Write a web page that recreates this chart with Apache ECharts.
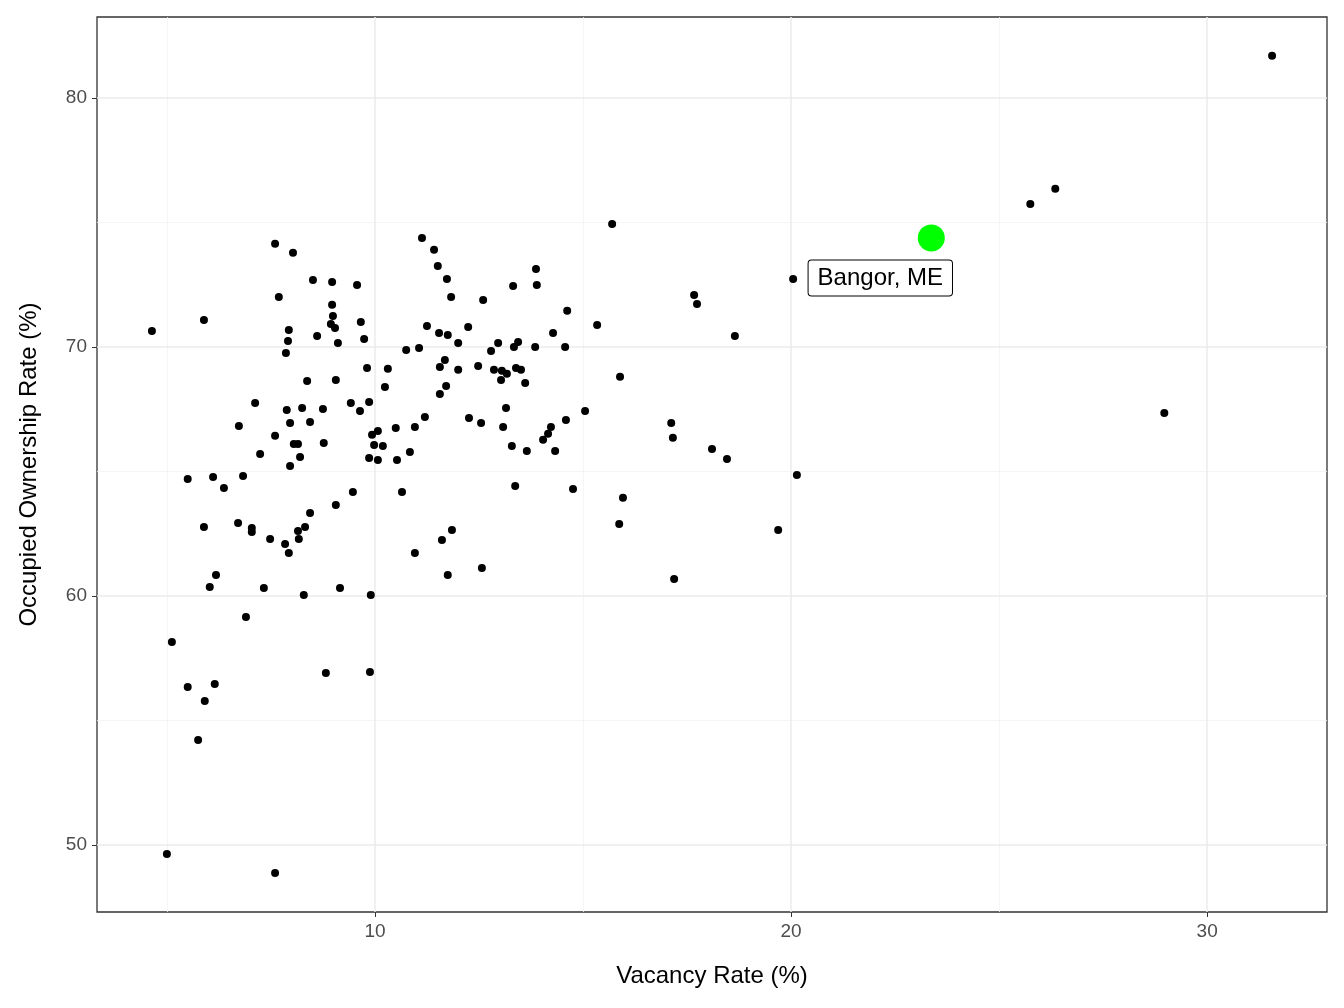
<!DOCTYPE html>
<html>
<head>
<meta charset="utf-8">
<title>Vacancy vs Ownership</title>
<script src="https://cdn.jsdelivr.net/npm/echarts@6/dist/echarts.min.js"></script>
<style>
	html,body{margin:0;width:100%;height:100%;background:#fff}
	#chart{width:1344px;height:1008px}
</style>
</head>
<body>
<div id="chart"></div>
<script>
// vacancy rate (%) and occupied ownership rate (%) per metro
var vacancy = [4.64,5.0,5.12,5.5,5.5,5.75,5.89,5.89,5.91,6.03,6.11,6.15,6.18,6.37,6.71,6.73,6.83,6.9,7.04,7.04,
	7.12,7.24,7.33,7.48,7.6,7.6,7.6,7.69,7.84,7.86,7.88,7.91,7.93,7.93,7.96,7.96,8.03,8.05,8.15,8.15,
	8.17,8.2,8.25,8.29,8.32,8.37,8.44,8.44,8.51,8.61,8.75,8.77,8.82,8.94,8.97,8.97,8.99,9.04,9.06,9.06,
	9.11,9.16,9.42,9.47,9.57,9.64,9.66,9.74,9.81,9.86,9.86,9.88,9.9,9.93,9.98,10.07,10.07,10.19,10.24,10.31,
	10.5,10.53,10.65,10.75,10.84,10.96,10.96,11.06,11.13,11.2,11.25,11.42,11.51,11.54,11.56,11.56,11.61,11.68,11.71,11.73,
	11.75,11.75,11.83,11.85,12.0,12.0,12.24,12.26,12.48,12.55,12.57,12.6,12.79,12.86,12.96,13.03,13.05,13.08,13.15,13.17,
	13.29,13.32,13.34,13.37,13.39,13.44,13.51,13.61,13.65,13.85,13.87,13.89,14.04,14.16,14.23,14.28,14.33,14.57,14.59,14.62,
	14.76,15.05,15.34,15.7,15.87,15.89,15.96,17.12,17.16,17.19,17.67,17.74,18.1,18.46,18.65,19.69,20.05,20.14,25.75,26.35,
	28.97,31.56];
var ownership = [70.64,49.64,58.15,64.7,56.35,54.22,71.08,62.77,55.78,60.36,64.78,56.47,60.84,64.34,62.93,66.83,64.82,59.16,62.73,62.57,
	67.75,65.7,60.32,62.29,74.14,66.43,48.88,72.01,62.09,69.76,67.47,70.24,70.68,61.73,65.22,66.95,73.78,66.1,66.1,62.61,
	62.29,65.58,67.55,60.04,62.77,68.63,66.99,63.33,72.69,70.44,67.51,66.14,56.91,70.92,72.61,71.69,71.24,70.76,68.67,63.65,
	70.16,60.32,67.75,64.18,72.49,67.43,71.0,70.32,69.16,67.79,65.54,56.95,60.04,66.47,66.06,66.63,65.46,66.02,68.39,69.12,
	66.75,65.46,64.18,69.88,65.78,61.73,66.79,69.96,74.38,67.19,70.84,73.9,73.25,70.56,69.2,68.11,62.25,69.48,68.43,72.73,
	60.84,70.48,72.01,62.65,69.08,70.16,70.8,67.15,69.24,66.95,61.12,71.89,69.84,69.08,70.16,68.67,69.04,66.79,67.55,68.92,
	66.02,72.45,70.0,64.42,69.16,70.2,69.08,68.55,65.82,70.0,73.13,72.49,66.27,66.51,66.79,70.56,65.82,70.0,67.07,71.45,
	64.3,67.43,70.88,74.94,62.89,68.8,63.94,66.95,66.35,60.68,72.09,71.73,65.9,65.5,70.44,62.65,72.73,64.86,75.74,76.35,
	67.35,81.69];
var highlight = {name: 'Bangor, ME', x: 23.37, y: 74.38};
var xTicks = [10, 20, 30];
var xMinor = [5, 15, 25];
var yTicks = [50, 60, 70, 80];
var yMinor = [55, 65, 75];

var points = vacancy.map(function(v, i){ return [v, ownership[i]]; });

function gridLines(vals, axis, w, c){
	return vals.map(function(v){
		var d = {}; d[axis] = v;
		d.lineStyle = {color: c, width: w, type: 'solid'};
		return d;
	});
}

var font = 'Arial, Liberation Sans';
var chart = echarts.init(document.getElementById('chart'));
chart.setOption({
	animation: false,
	grid: {left: 97, right: 17, top: 17, bottom: 96, show: true, borderColor: '#333', borderWidth: 1.3, backgroundColor: '#fff'},
	xAxis: {
		type: 'value', min: 3.32, max: 32.88,
		name: 'Vacancy Rate (%)', nameLocation: 'middle', nameGap: 52,
		nameTextStyle: {color: '#000', fontSize: 24, fontFamily: font},
		axisLine: {show: false},
		axisTick: {show: true, customValues: xTicks, length: 5, lineStyle: {color: '#333'}},
		axisLabel: {customValues: xTicks, color: '#4d4d4d', fontSize: 19, margin: 10, fontFamily: font},
		splitLine: {show: false}
	},
	yAxis: {
		type: 'value', min: 47.31, max: 83.25,
		name: 'Occupied Ownership Rate (%)', nameLocation: 'middle', nameGap: 56,
		nameTextStyle: {color: '#000', fontSize: 24, fontFamily: font},
		axisLine: {show: false},
		axisTick: {show: true, customValues: yTicks, length: 5, lineStyle: {color: '#333'}},
		axisLabel: {customValues: yTicks, color: '#4d4d4d', fontSize: 19, margin: 10, fontFamily: font},
		splitLine: {show: false}
	},
	series: [
		{
			type: 'scatter', data: [], z: 1, silent: true,
			markLine: {
				silent: true, symbol: 'none', label: {show: false}, animation: false, z: 1,
				data: [].concat(
					gridLines(xMinor, 'xAxis', 0.8, '#f2f2f2'),
					gridLines(yMinor, 'yAxis', 0.8, '#f2f2f2'),
					gridLines(xTicks, 'xAxis', 1.5, '#ebebeb'),
					gridLines(yTicks, 'yAxis', 1.5, '#ebebeb')
				)
			}
		},
		{
			type: 'scatter', data: points, symbolSize: 8, itemStyle: {color: '#000', opacity: 1}, z: 3
		},
		{
			type: 'scatter', data: [[highlight.x, highlight.y]], symbolSize: 27,
			itemStyle: {color: '#00ff00', opacity: 1}, z: 4,
			label: {
				show: true, formatter: highlight.name, position: 'inside', offset: [-51, 40],
				color: '#000', fontSize: 24, fontFamily: font,
				backgroundColor: '#fff', borderColor: '#000', borderWidth: 1, borderRadius: 3,
				padding: [6, 9, 5, 9]
			}
		}
	]
});
</script>
</body>
</html>
